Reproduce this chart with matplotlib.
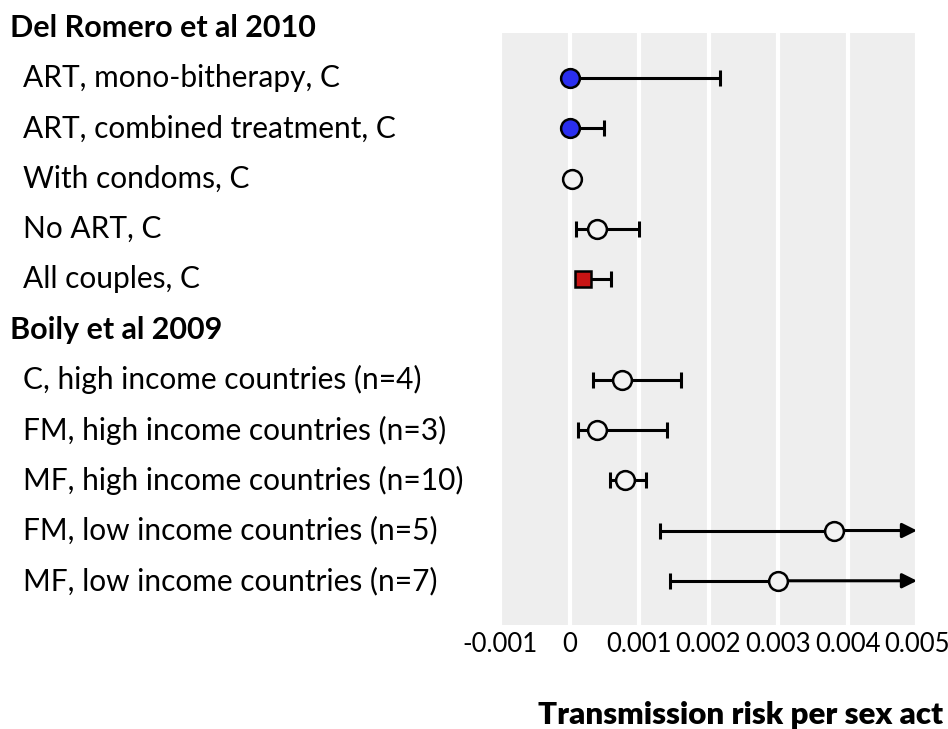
import numpy as np
import matplotlib
matplotlib.use('Agg')
import matplotlib.pyplot as plt
from matplotlib.ticker import FixedLocator, FuncFormatter
from matplotlib.transforms import blended_transform_factory

matplotlib.rcParams['font.family'] = ['Lato', 'DejaVu Sans']
matplotlib.rcParams['axes.unicode_minus'] = False

# studies and their rows
studies = ['Del Romero et al 2010', 'Boily et al 2009']
romero_labels = ['ART, mono-bitherapy, C', 'ART, combined treatment, C',
                 'With condoms, C', 'No ART, C', 'All couples, C']
boily_labels = ['C, high income countries (n=4)', 'FM, high income countries (n=3)',
                'MF, high income countries (n=10)', 'FM, low income countries (n=5)',
                'MF, low income countries (n=7)']

# point estimate, lower and upper limit (nan = runs off the scale)
romero_est = [0.0, 0.0, 0.00004, 0.00039, 0.0002]
romero_lo = [0.0, 0.0, 0.00002, 0.0001, 0.0001]
romero_hi = [0.00217, 0.0005, 0.00006, 0.001, 0.0006]
romero_kind = ['art', 'art', 'single', 'single', 'pooled']

boily_est = [0.00076, 0.00039, 0.0008, 0.0038, 0.003]
boily_lo = [0.00034, 0.00012, 0.00058, 0.0013, 0.00144]
boily_hi = [0.0016, 0.0014, 0.0011, np.nan, np.nan]
boily_kind = ['single', 'single', 'single', 'single', 'single']

xticks = [-0.001, 0, 0.001, 0.002, 0.003, 0.004, 0.005]

styles = {
    'art': dict(marker='o', markersize=13.5, markerfacecolor='#2a2ef0'),
    'single': dict(marker='o', markersize=13.5, markerfacecolor='#f2f2f2'),
    'pooled': dict(marker='s', markersize=12, markerfacecolor='#c81414'),
}

fig = plt.figure(figsize=(9.48, 7.29), dpi=100)
ax = fig.add_axes([500/948, 1-625/729, 417/948, 592/729])
ax.set_facecolor('#eeeeee')
for s in ax.spines.values():
    s.set_visible(False)

# x in figure fraction, y in data rows
lab_tr = blended_transform_factory(fig.transFigure, ax.transData)

xmax = xticks[-1]
y = 0
for study, labels, est, lo, hi, kind in [
        (studies[0], romero_labels, romero_est, romero_lo, romero_hi, romero_kind),
        (studies[1], boily_labels, boily_est, boily_lo, boily_hi, boily_kind)]:
    ax.text(10/948, y, study, fontsize=22, fontweight='bold', va='center',
            ha='left', transform=lab_tr, clip_on=False)
    y += 1
    for i in range(len(labels)):
        ax.text(23/948, y, labels[i], fontsize=21.5, va='center', ha='left',
                transform=lab_tr)
        e, l, h = est[i], lo[i], hi[i]
        if np.isnan(h):
            ax.errorbar(e, y, xerr=[[e - l], [0]], fmt='none', ecolor='black',
                        elinewidth=2.2, capsize=6, capthick=2.2, zorder=3)
            ax.annotate('', xy=(xmax, y), xytext=(e, y),
                        arrowprops=dict(arrowstyle='-|>', color='black', lw=2.2,
                                        mutation_scale=22, shrinkA=0, shrinkB=0),
                        zorder=3, annotation_clip=False)
        else:
            ax.errorbar(e, y, xerr=[[e - l], [h - e]], fmt='none', ecolor='black',
                        elinewidth=2.2, capsize=6, capthick=2.2, zorder=3)
        ax.plot(e, y, linestyle='none', markeredgecolor='black', markeredgewidth=1.8,
                zorder=5, clip_on=False, **styles[kind[i]])
        y += 1

ax.set_xlim(xticks[0], xticks[-1])
ax.set_ylim(11.88, 0.1)
ax.set_yticks([])
ax.xaxis.set_major_locator(FixedLocator(xticks))
ax.xaxis.set_major_formatter(FuncFormatter(lambda v, p: '0' if v == 0 else f'{v:g}'))
ax.tick_params(axis='x', length=0, labelsize=18.5, pad=5)
ax.grid(axis='x', color='white', linewidth=3)
ax.set_axisbelow(True)

fig.text(943/948, 1-715/729, 'Transmission risk per sex act', fontsize=22.5,
         fontweight='heavy', ha='right', va='center')

fig.savefig('out.png', dpi=100)
